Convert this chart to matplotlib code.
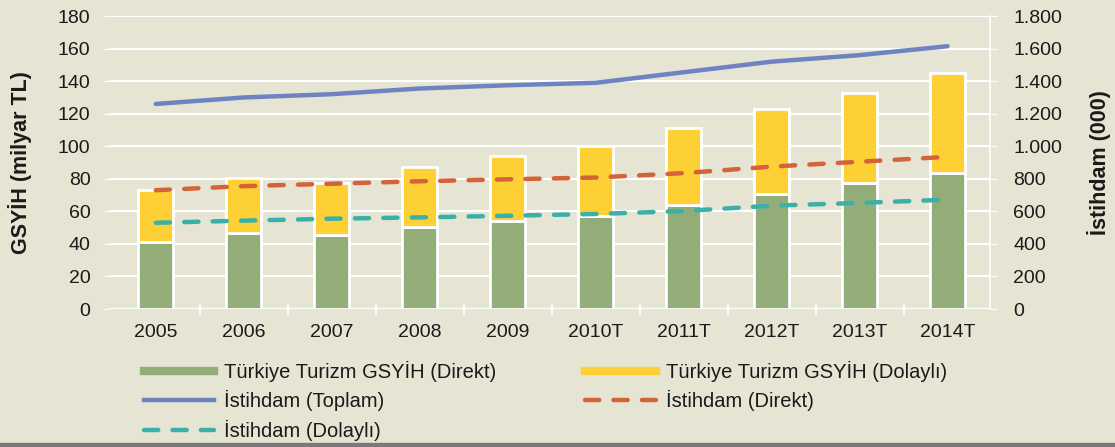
import matplotlib
matplotlib.use("Agg")
import matplotlib.pyplot as plt
from matplotlib.lines import Line2D
from matplotlib.ticker import FuncFormatter
import numpy as np

years = ["2005", "2006", "2007", "2008", "2009", "2010T", "2011T", "2012T", "2013T", "2014T"]
gsyih_direkt = [41, 47, 45.5, 50.5, 54, 57, 64, 70.5, 77.5, 83.5]
gsyih_toplam = [73, 80.5, 77.5, 87, 94, 100, 111, 123, 133, 145]
gsyih_dolayli = [t - d for t, d in zip(gsyih_toplam, gsyih_direkt)]
istihdam_toplam = [1260, 1300, 1320, 1355, 1375, 1390, 1455, 1520, 1560, 1615]
istihdam_direkt = [730, 755, 770, 785, 797, 808, 835, 875, 905, 935]
istihdam_dolayli = [530, 543, 555, 563, 573, 584, 602, 635, 652, 672]

BG = "#E6E4D2"
GREEN = "#93AD78"
YELLOW = "#FDD135"
BLUE = "#6E84C2"
ORANGE = "#D4623A"
TEAL = "#3BB0AA"
TXT = "#1a1a1a"

plt.rcParams['font.family'] = ['Liberation Sans', 'DejaVu Sans']

TICK_FS = 14
LAB_FS = 15.5

fig = plt.figure(figsize=(11.15, 4.47), dpi=100, facecolor=BG)
ax = fig.add_axes([0.0987, 0.3087, 0.789, 0.6553])
ax.set_facecolor(BG)
x = np.arange(len(years))

ax.bar(x, gsyih_direkt, width=0.4, color=GREEN, edgecolor="white", linewidth=2, zorder=3)
ax.bar(x, gsyih_dolayli, bottom=gsyih_direkt, width=0.4, color=YELLOW, edgecolor="white", linewidth=2, zorder=3)

ax.set_ylim(0, 180)
ax.set_yticks(np.arange(0, 181, 20))
ax.set_xlim(-0.52, 9.48)
ax.set_xticks(x)
ax.set_xticklabels(years)
ax.set_xticks(np.arange(0.5, 9.5, 1), minor=True)
ax.grid(axis='y', color='white', linewidth=1.5, zorder=0)
for s in ax.spines.values():
    s.set_visible(False)
ax.tick_params(axis='x', which='major', length=0, labelsize=TICK_FS, colors=TXT, pad=11)
ax.tick_params(axis='x', which='minor', length=8, direction='inout', color='white', width=1.2)
ax.tick_params(axis='y', length=4, color='white', labelsize=TICK_FS, colors=TXT, pad=10)
ax.axhline(0, color='white', lw=1.5, zorder=1)
ax.set_ylabel("GSYİH (milyar TL)", fontsize=LAB_FS, fontweight='bold', color=TXT)
ax.yaxis.set_label_coords(-0.089, 0.5)

ax2 = ax.twinx()
ax2.set_ylim(0, 1800)
ax2.set_yticks(np.arange(0, 1801, 200))
ax2.yaxis.set_major_formatter(FuncFormatter(lambda v, p: f"{int(v):,}".replace(",", ".")))
for s in ax2.spines.values():
    s.set_visible(False)
ax2.spines['right'].set_visible(True)
ax2.spines['right'].set_color('white')
ax2.spines['right'].set_linewidth(1.2)
ax2.tick_params(axis='y', length=5, color='white', labelsize=TICK_FS, colors=TXT, pad=12)
ax2.set_ylabel("İstihdam (000)", fontsize=LAB_FS, fontweight='bold', color=TXT)
ax2.yaxis.set_label_coords(1.110, 0.5)

ax2.plot(x, istihdam_toplam, color=BLUE, lw=3.2, solid_capstyle='round', zorder=4)
ax2.plot(x, istihdam_direkt, color=ORANGE, lw=3.2, dashes=(3.2, 3.2), dash_capstyle='round', zorder=4)
ax2.plot(x, istihdam_dolayli, color=TEAL, lw=3.2, dashes=(3.2, 3.2), dash_capstyle='round', zorder=4)

handles = [
    Line2D([], [], color=GREEN, lw=6),
    Line2D([], [], color=BLUE, lw=3.2),
    Line2D([], [], color=TEAL, lw=3.2, dashes=(3.2, 3.2), dash_capstyle='round'),
    Line2D([], [], color=YELLOW, lw=6),
    Line2D([], [], color=ORANGE, lw=3.2, dashes=(3.2, 3.2), dash_capstyle='round'),
]
labels = [
    "Türkiye Turizm GSYİH (Direkt)",
    "İstihdam (Toplam)",
    "İstihdam (Dolaylı)",
    "Türkiye Turizm GSYİH (Dolaylı)",
    "İstihdam (Direkt)",
]
fig.legend(handles, labels, ncol=2, loc='upper left', bbox_to_anchor=(0.129, 0.193),
           frameon=False, fontsize=14.5, handlelength=3.5, handletextpad=0.5,
           columnspacing=4.4, labelspacing=0.42, borderaxespad=0, borderpad=0,
           labelcolor=TXT)

fig.patches.append(plt.Rectangle((0, 0), 1, 0.01, transform=fig.transFigure, color="#7a7a7a"))

fig.savefig("out.png", dpi=100, facecolor=BG)
